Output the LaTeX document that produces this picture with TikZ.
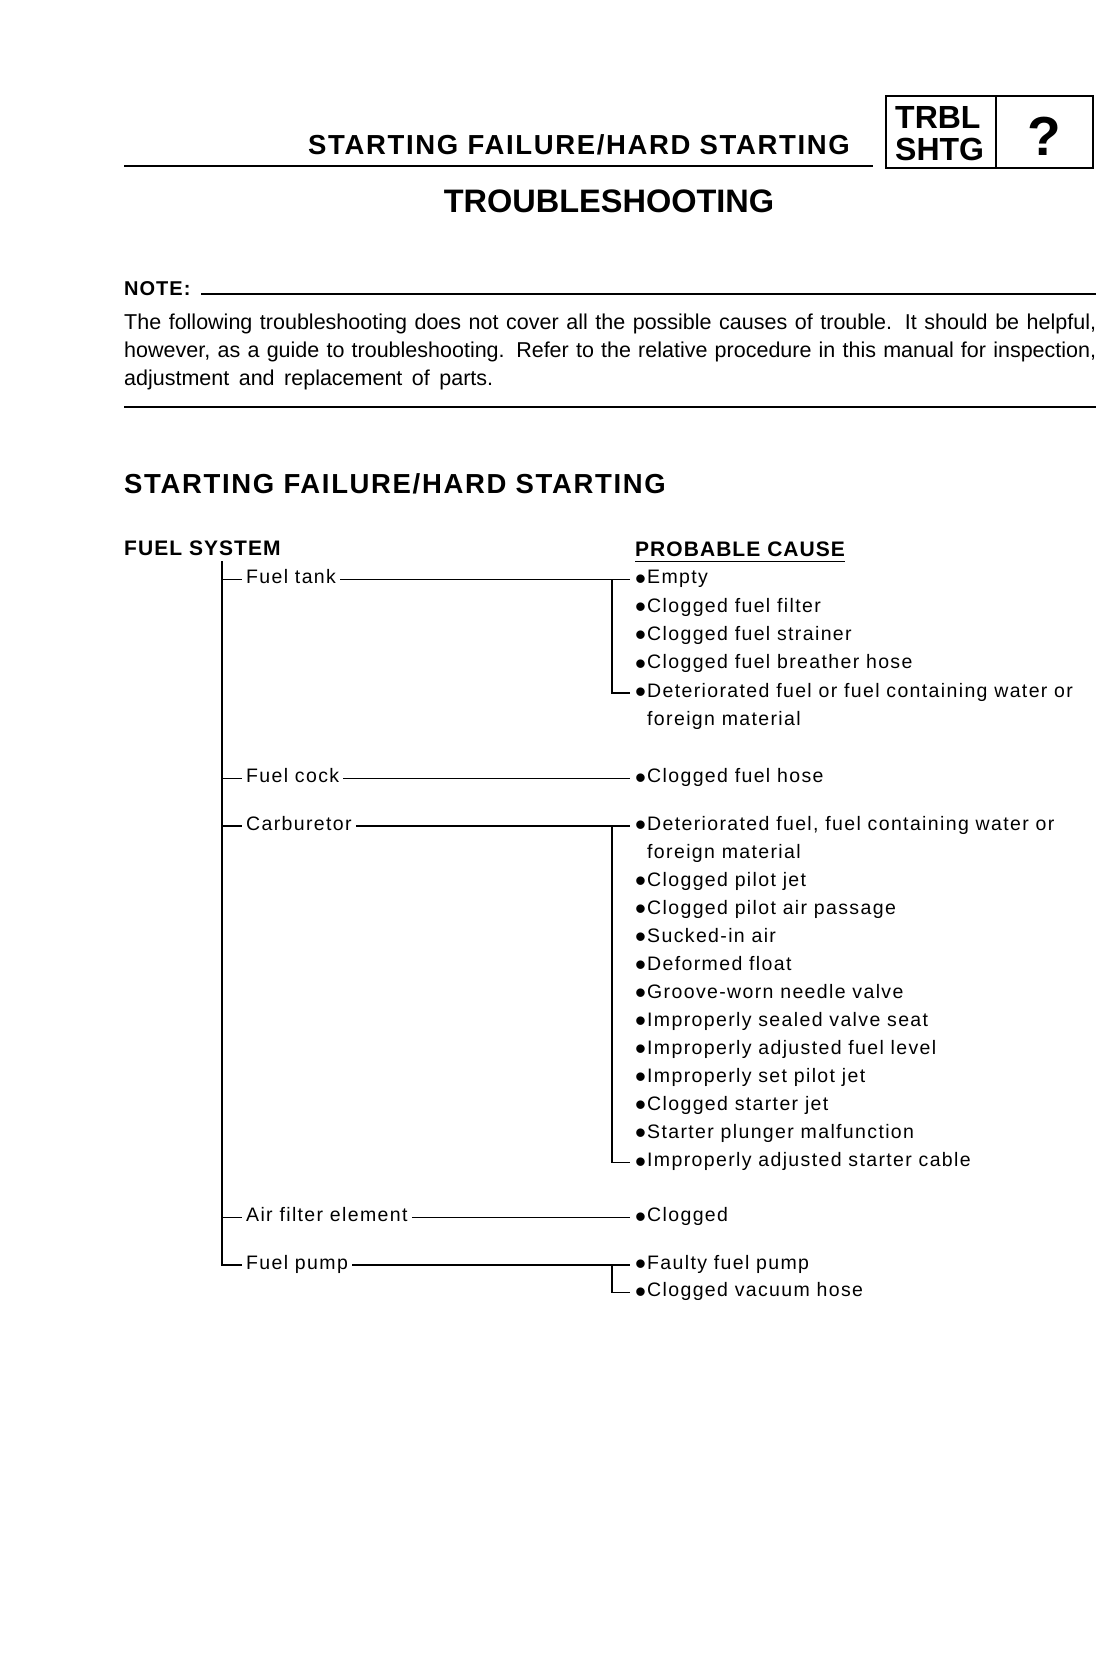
\documentclass[tikz,border=0pt]{standalone}
\usepackage{fontspec}
\setmainfont{Liberation Sans}
\newfontfamily\cfont[LetterSpace=7]{Liberation Sans}
\newfontfamily\hfont[LetterSpace=5]{Liberation Sans}
\newfontfamily\hbfont[LetterSpace=6]{Liberation Sans}
\newcommand\bul{\makebox[12pt][l]{\smash{\raisebox{-5.3pt}{\scalebox{1.6}{\textbullet}}}}}
\newcommand\ind{\hspace*{12pt}}
\newcommand\rb[1]{\raisebox{-1.6pt}[\height][\depth]{#1}}
\begin{document}
\begin{tikzpicture}[x=1pt,y=-1pt,
  cause/.style={anchor=mid west, inner xsep=5pt, inner ysep=0pt, font=\cfont\fontsize{19.5}{24}\selectfont},
  lbl/.style={anchor=mid west, inner xsep=4pt, inner ysep=0pt, font=\cfont\fontsize{19.5}{24}\selectfont},
  head/.style={inner sep=0pt, font=\hbfont\bfseries\fontsize{27.5}{30}\selectfont},
  sub/.style={inner sep=0pt, font=\hfont\bfseries\fontsize{21}{24}\selectfont},
  para/.style={inner sep=0pt, anchor=base west, font=\fontsize{21.5}{26}\selectfont},
  conn/.style={line width=1.4pt},
  rule/.style={line width=2.4pt},
]
\useasboundingbox (0,0) rectangle (1117,1658);
\fill[white] (0,0) rectangle (1117,1658);

% ---- page header ----
\node[head, anchor=base east] (hdr) at (850,154.5) {STARTING FAILURE/HARD STARTING};
\draw[rule] (124,166) -- (873,166);
\draw[line width=2pt] (886,96) rectangle (1093,168);
\draw[line width=2pt] (995.5,96) -- (995.5,168);
\node[inner sep=0pt, anchor=base west, font=\bfseries\fontsize{32}{34}\selectfont] (trbl) at (895,128) {TRBL};
\node[inner sep=0pt, anchor=base west, font=\bfseries\fontsize{32}{34}\selectfont] (shtg) at (895,160.7) {SHTG};
\node[inner sep=0pt, anchor=base, font=\bfseries\fontsize{55}{58}\selectfont] (qm) at (1044,155) {?};

\node[inner sep=0pt, anchor=base, font=\bfseries\fontsize{32.5}{36}\selectfont] (ts) at (609,212.6) {TROUBLESHOOTING};

% ---- note ----
\node[inner sep=0pt, anchor=base west, font=\hfont\bfseries\fontsize{20}{24}\selectfont] (note) at (124,295) {NOTE:};
\draw[rule] (201,294) -- (1096,294);
\node[para] (p1) at (124,329) {\makebox[972pt][s]{The following troubleshooting does not cover all the possible causes of trouble. It should be helpful,}};
\node[para] (p2) at (124,357.5) {\makebox[972pt][s]{however, as a guide to troubleshooting. Refer to the relative procedure in this manual for inspection,}};
\node[para] (p3) at (124,385) {\makebox[369pt][s]{adjustment and replacement of parts.}};
\draw[line width=2pt] (124,407) -- (1096,407);

% ---- section ----
\node[head, anchor=base west] (sec) at (124,493) {STARTING FAILURE/HARD STARTING};
\node[sub, anchor=base west] (fs) at (124,555) {FUEL SYSTEM};
\node[sub, anchor=base west] (pc) at (635,556) {PROBABLE CAUSE};
\draw[line width=1pt] ([yshift=-5.5pt]pc.base west) -- ([yshift=-5.5pt]pc.base east);

% trunk
\coordinate (top) at (222,561);
\coordinate (br) at (612,0);

% labels
\node[lbl] (l1) at (242,579.7) {\rb{Fuel tank}};
\node[lbl] (l2) at (242,778.5) {\rb{Fuel cock}};
\node[lbl] (l3) at (242,826.1) {\rb{Carburetor}};
\node[lbl] (l4) at (242,1217.5) {\rb{Air filter element}};
\node[lbl] (l5) at (242,1265.1) {\rb{Fuel pump}};

% causes: fuel tank
\node[cause] (c11) at (630,579.7) {\rb{\bul Empty}};
\node[cause] (c12) at (630,608.0) {\rb{\bul Clogged fuel filter}};
\node[cause] (c13) at (630,636.3) {\rb{\bul Clogged fuel strainer}};
\node[cause] (c14) at (630,664.6) {\rb{\bul Clogged fuel breather hose}};
\node[cause] (c15) at (630,692.9) {\rb{\bul Deteriorated fuel or fuel containing water or}};
\node[cause] (c15b) at (630,721.2) {\rb{\ind foreign material}};
% fuel cock
\node[cause] (c21) at (630,778.5) {\rb{\bul Clogged fuel hose}};
% carburetor
\node[cause] (c31) at (630,826.1) {\rb{\bul Deteriorated fuel, fuel containing water or}};
\node[cause] (c31b) at (630,854.1) {\rb{\ind foreign material}};
\node[cause] (c32) at (630,882.2) {\rb{\bul Clogged pilot jet}};
\node[cause] (c33) at (630,910.2) {\rb{\bul Clogged pilot air passage}};
\node[cause] (c34) at (630,938.2) {\rb{\bul Sucked-in air}};
\node[cause] (c35) at (630,966.3) {\rb{\bul Deformed float}};
\node[cause] (c36) at (630,994.3) {\rb{\bul Groove-worn needle valve}};
\node[cause] (c37) at (630,1022.3) {\rb{\bul Improperly sealed valve seat}};
\node[cause] (c38) at (630,1050.3) {\rb{\bul Improperly adjusted fuel level}};
\node[cause] (c39) at (630,1078.4) {\rb{\bul Improperly set pilot jet}};
\node[cause] (c310) at (630,1106.4) {\rb{\bul Clogged starter jet}};
\node[cause] (c311) at (630,1134.4) {\rb{\bul Starter plunger malfunction}};
\node[cause] (c312) at (630,1162.5) {\rb{\bul Improperly adjusted starter cable}};
% air filter
\node[cause] (c41) at (630,1217.5) {\rb{\bul Clogged}};
% fuel pump
\node[cause] (c51) at (630,1265.1) {\rb{\bul Faulty fuel pump}};
\node[cause] (c52) at (630,1292.6) {\rb{\bul Clogged vacuum hose}};

% connectors
\draw[conn] (top) |- (l5.mid west);
\draw[conn] (l1.mid west -| top) -- (l1.mid west);
\draw[conn] (l2.mid west -| top) -- (l2.mid west);
\draw[conn] (l3.mid west -| top) -- (l3.mid west);
\draw[conn] (l4.mid west -| top) -- (l4.mid west);

\draw[conn] (l1.mid east) -- (c11.mid west);
\draw[conn] (c11.mid west -| br) |- (c15.mid west);
\draw[conn] (l2.mid east) -- (c21.mid west);
\draw[conn] (l3.mid east) -- (c31.mid west);
\draw[conn] (c31.mid west -| br) |- (c312.mid west);
\draw[conn] (l4.mid east) -- (c41.mid west);
\draw[conn] (l5.mid east) -- (c51.mid west);
\draw[conn] (c51.mid west -| br) |- (c52.mid west);
\end{tikzpicture}
\end{document}
